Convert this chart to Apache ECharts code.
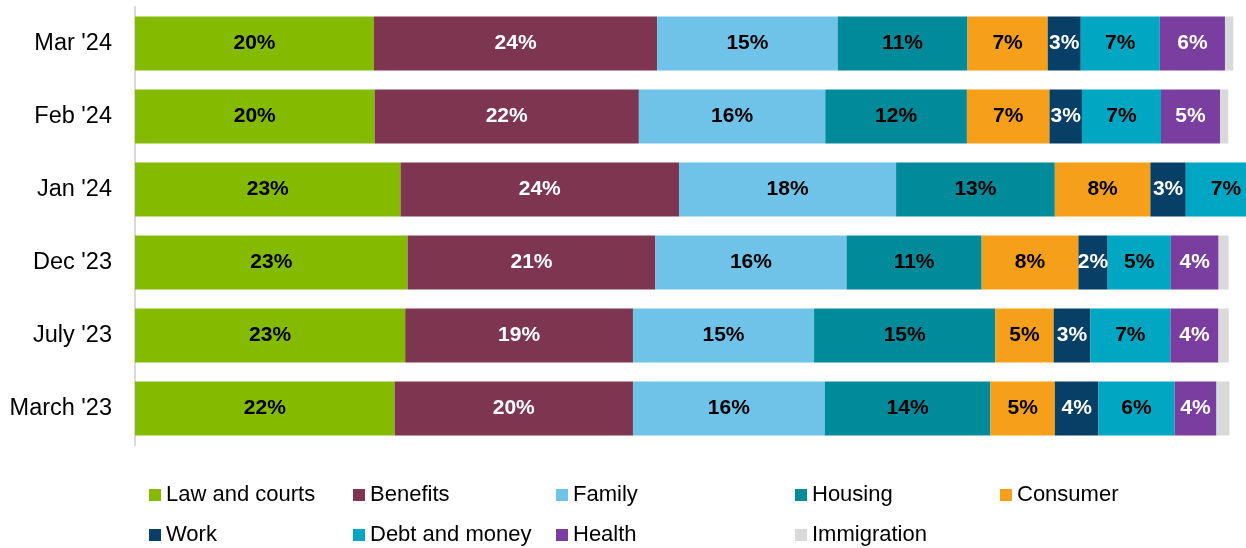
<!DOCTYPE html>
<html>
<head>
<meta charset="utf-8">
<script src="https://cdn.jsdelivr.net/npm/echarts@6/dist/echarts.min.js"></script>
<style>
  html, body { margin: 0; padding: 0; background: #fff; overflow: hidden; }
  /* the source chart is cropped on the right: draw it wider than the window */
  #chart { width: 1315px; height: 548px; }
</style>
</head>
<body>
<div id="chart"></div>
<script>
// categories, top to bottom
const months = ["Mar '24", "Feb '24", "Jan '24", "Dec '23", "July '23", "March '23"]

// share of enquiries (%)
const lawCourts = [20.25, 20.3, 22.5, 23.1, 22.9, 22.0]
const benefits = [24.0, 22.4, 23.6, 21.0, 19.3, 20.2]
const family = [15.3, 15.8, 18.4, 16.2, 15.35, 16.25]
const housing = [11.0, 12.0, 13.45, 11.45, 15.35, 14.05]
const consumer = [6.8, 7.0, 8.1, 8.2, 4.95, 5.45]
const work = [2.8, 2.75, 3.0, 2.48, 3.1, 3.7]
const debtMoney = [6.7, 6.7, 6.8, 5.35, 6.8, 6.45]
const health = [5.52, 5.0, 4.9, 4.05, 4.07, 3.55]
const immigration = [0.7, 0.7, 0.8, 0.85, 0.87, 1.1]

const seriesList = [
  { name: 'Law and courts', data: lawCourts, color: '#84bb00', text: '#000' },
  { name: 'Benefits', data: benefits, color: '#7e3650', text: '#fff' },
  { name: 'Family', data: family, color: '#6fc2e8', text: '#000' },
  { name: 'Housing', data: housing, color: '#008a9a', text: '#000' },
  { name: 'Consumer', data: consumer, color: '#f59f1a', text: '#000' },
  { name: 'Work', data: work, color: '#073f66', text: '#fff' },
  { name: 'Debt and money', data: debtMoney, color: '#00a6c2', text: '#000' },
  { name: 'Health', data: health, color: '#793e9f', text: '#fff' },
  { name: 'Immigration', data: immigration, color: '#d9d9d9', text: '#000' }
]

const FONT = '"Liberation Sans", Arial, sans-serif'

// legend slots (Excel-style grid: 5 columns, 2 rows)
const legendCols = [149, 353, 556, 795, 1000]
const legendRows = [484, 524]

const chart = echarts.init(document.getElementById('chart'))

const legends = seriesList.map((s, i) => ({
  data: [s.name],
  left: legendCols[i % 5],
  top: legendRows[Math.floor(i / 5)],
  padding: 0,
  icon: 'rect',
  itemWidth: 12,
  itemHeight: 12,
  selectedMode: false,
  textStyle: { fontFamily: FONT, fontSize: 22, color: '#000', lineHeight: 22 }
}))

chart.setOption({
  animation: false,
  textStyle: { fontFamily: FONT },
  grid: { left: 135, right: 0, top: 7, bottom: 103 },
  legend: legends,
  xAxis: {
    type: 'value',
    min: 0,
    max: 100,
    show: false
  },
  yAxis: {
    type: 'category',
    data: months,
    inverse: true,
    offset: 1,
    axisLine: { show: true, lineStyle: { color: '#d9d9d9', width: 2 } },
    axisTick: { show: false },
    axisLabel: { fontFamily: FONT, fontSize: 23.5, color: '#000', margin: 22 }
  },
  series: seriesList.map(s => ({
    name: s.name,
    type: 'bar',
    stack: 'total',
    barWidth: 54,
    data: s.data,
    itemStyle: { color: s.color },
    label: {
      show: s.name !== 'Immigration',
      position: 'inside',
      fontFamily: FONT,
      fontSize: 21,
      fontWeight: 'bold',
      color: s.text,
      formatter: p => Math.round(p.value) + '%'
    }
  }))
})
</script>
</body>
</html>
